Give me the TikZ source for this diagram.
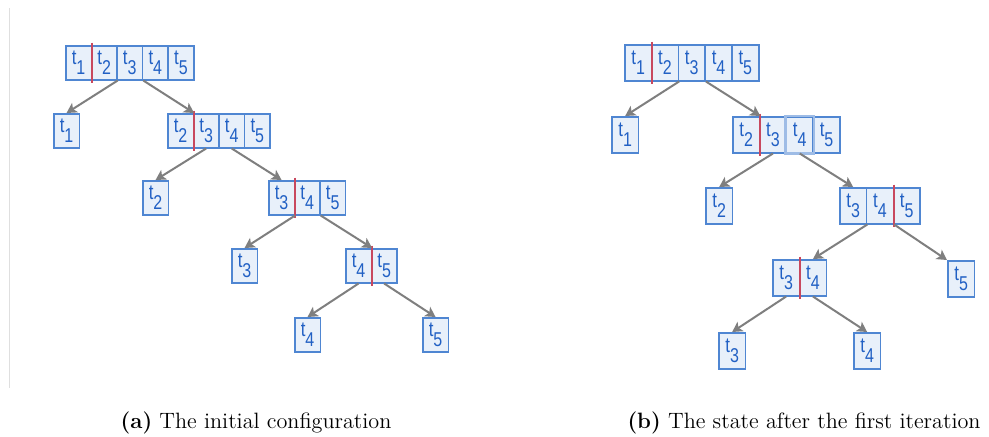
\documentclass[tikz,border=0pt]{standalone}
\usepackage{fontspec}
\usetikzlibrary{arrows.meta}
\newfontfamily\boxfont{Liberation Sans}
\definecolor{boxc}{HTML}{4F86D2}
\definecolor{boxf}{HTML}{E8F0FA}
\definecolor{txtc}{HTML}{2160C4}
\definecolor{redc}{HTML}{C8485E}
\definecolor{arrc}{HTML}{7F7F7F}
\newcommand\tsub[1]{\scalebox{0.8}[1]{\boxfont\fontsize{10.5}{10.5}\selectfont t\raisebox{-4.8pt}{\fontsize{10}{10}\selectfont #1}}}
\tikzset{
  cellA/.style={draw=boxc, fill=boxf, line width=0.75pt, inner sep=0pt, anchor=north west,
    minimum width=12.8pt, minimum height=17pt, text=txtc},
  cellB/.style={draw=boxc, fill=boxf, line width=0.75pt, inner sep=0pt, anchor=north west,
    minimum width=13.4pt, minimum height=18pt, text=txtc},
  arr/.style={draw=arrc, line width=1pt, -{Stealth[length=5pt,width=5.5pt,inset=1.2pt]}},
  redline/.style={draw=redc, line width=0.9pt},
  caption/.style={font=\fontsize{11.1}{13}\selectfont, inner sep=0pt}
}
\begin{document}
\begin{tikzpicture}[x=0.5pt,y=-0.5pt]
\useasboundingbox (0,0) rectangle (989,436);
\draw[gray!25, line width=0.5pt] (9.5,8) -- (9.5,388);

% ---------- panel (a) ----------
\foreach \l [count=\i] in {1,2,3,4,5}
  \node[cellA] (aR\i) at ({65+25.6*(\i-1)},45) {\tsub{\l}};
\node[cellA] (aL1) at (53,113) {\tsub{1}};
\foreach \l [count=\i] in {2,3,4,5}
  \node[cellA] (aS\i) at ({167+25.6*(\i-1)},113) {\tsub{\l}};
\node[cellA] (aL2) at (142,180) {\tsub{2}};
\foreach \l [count=\i] in {3,4,5}
  \node[cellA] (aT\i) at ({268+25.6*(\i-1)},180) {\tsub{\l}};
\node[cellA] (aL3) at (231,248) {\tsub{3}};
\foreach \l [count=\i] in {4,5}
  \node[cellA] (aU\i) at ({345+25.6*(\i-1)},248) {\tsub{\l}};
\node[cellA] (aL4) at (294,317) {\tsub{4}};
\node[cellA] (aL5) at (422,317) {\tsub{5}};

\draw[redline] ([yshift=1.2pt]aR1.north east) -- ([yshift=-1.2pt]aR1.south east);
\draw[redline] ([yshift=1.2pt]aS1.north east) -- ([yshift=-1.2pt]aS1.south east);
\draw[redline] ([yshift=1.2pt]aT1.north east) -- ([yshift=-1.2pt]aT1.south east);
\draw[redline] ([yshift=1.2pt]aU1.north east) -- ([yshift=-1.2pt]aU1.south east);

\draw[arr] (aR2.south east) -- (aL1.north);
\draw[arr] (aR3.south east) -- (aS1.north east);
\draw[arr] (aS2.south) -- (aL2.north);
\draw[arr] (aS3.south) -- (aT1.north);
\draw[arr] (aT1.south east) -- (aL3.north);
\draw[arr] (aT2.south east) -- (aU1.north east);
\draw[arr] (aU1.south) -- (aL4.north);
\draw[arr] (aU2.south) -- (aL5.north);

% ---------- panel (b) ----------
\foreach \l [count=\i] in {1,2,3,4,5}
  \node[cellB] (bR\i) at ({624+26.8*(\i-1)},44) {\tsub{\l}};
\node[cellB] (bL1) at (611,116) {\tsub{1}};
\foreach \l [count=\i] in {2,3,4,5}
  \node[cellB] (bS\i) at ({732+26.8*(\i-1)},116) {\tsub{\l}};
\draw[boxc!55, line width=1.4pt] (bS3.north west) rectangle (bS3.south east);
\node[cellB] (bL2) at (705,187) {\tsub{2}};
\foreach \l [count=\i] in {3,4,5}
  \node[cellB] (bT\i) at ({839+26.8*(\i-1)},187) {\tsub{\l}};
\foreach \l [count=\i] in {3,4}
  \node[cellB] (bU\i) at ({772+26.8*(\i-1)},259) {\tsub{\l}};
\node[cellB] (bL5) at (947,260) {\tsub{5}};
\node[cellB] (bL3) at (718,332) {\tsub{3}};
\node[cellB] (bL4) at (853,332) {\tsub{4}};

\draw[redline] ([yshift=1.2pt]bR1.north east) -- ([yshift=-1.2pt]bR1.south east);
\draw[redline] ([yshift=1.2pt]bS1.north east) -- ([yshift=-1.2pt]bS1.south east);
\draw[redline] ([yshift=1.2pt]bT2.north east) -- ([yshift=-1.2pt]bT2.south east);
\draw[redline] ([yshift=1.2pt]bU1.north east) -- ([yshift=-1.2pt]bU1.south east);

\draw[arr] (bR2.south east) -- (bL1.north);
\draw[arr] (bR3.south east) -- (bS1.north east);
\draw[arr] (bS2.south) -- (bL2.north);
\draw[arr] (bS3.south) -- (bT1.north);
\draw[arr] (bT1.south east) -- (bU2.north);
\draw[arr] (bT2.south east) -- (bL5.north west);
\draw[arr] (bU1.south) -- (bL3.north);
\draw[arr] (bU2.south) -- (bL4.north);

% ---------- captions ----------
\node[caption] (capA) at (256,423) {\textbf{(a)} The initial configuration};
\node[caption] (capB) at (804,423) {\textbf{(b)} The state after the first iteration};
\end{tikzpicture}
\end{document}
